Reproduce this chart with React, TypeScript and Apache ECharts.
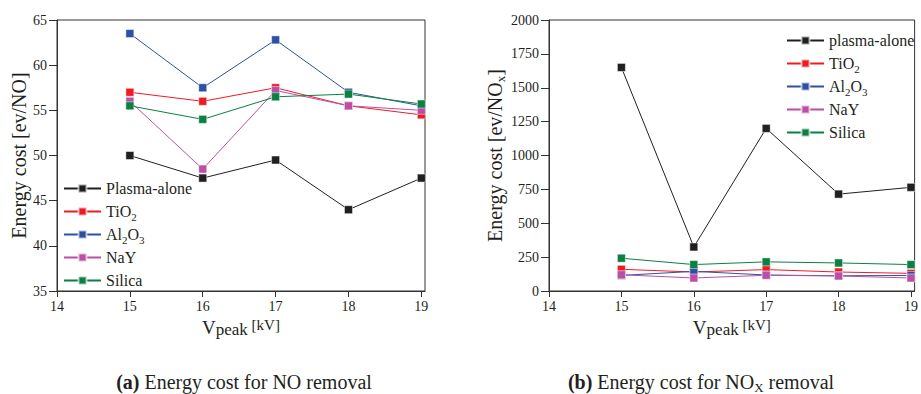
import React, { useEffect, useRef } from "react";
import * as echarts from "echarts";

const voltages = [15, 16, 17, 18, 19];
const xTicks = [14, 15, 16, 17, 18, 19];

const seriesNames = ["Plasma-alone", "TiO2", "Al2O3", "NaY", "Silica"];
const seriesNamesRight = ["plasma-alone", "TiO2", "Al2O3", "NaY", "Silica"];
const colors = ["#231f20", "#ed1c24", "#2e50a3", "#bb4fa5", "#0b8042"];

// (a) Energy cost for NO removal [eV/NO]
const noPlasma = [50.0, 47.5, 49.5, 44.0, 47.5];
const noTiO2 = [57.0, 56.0, 57.5, 55.5, 54.5];
const noAl2O3 = [63.5, 57.5, 62.8, 57.0, 55.5];
const noNaY = [56.0, 48.5, 57.2, 55.5, 55.0];
const noSilica = [55.5, 54.0, 56.5, 56.8, 55.7];

// (b) Energy cost for NOx removal [eV/NOx]
const noxPlasma = [1650, 325, 1200, 715, 765];
const noxTiO2 = [160, 140, 158, 140, 130];
const noxAl2O3 = [115, 145, 118, 112, 115];
const noxNaY = [120, 96, 116, 111, 96];
const noxSilica = [242, 195, 215, 207, 195];

const FONT = "'Liberation Serif', 'Times New Roman', serif";
const TXT = "#231f20";

const subRich = {
  n: { fontFamily: FONT, fontSize: 16, lineHeight: 21, color: TXT },
  s: { fontFamily: FONT, fontSize: 11, lineHeight: 11, verticalAlign: "bottom", color: TXT },
};

function legendFmt(name: string) {
  if (name === "TiO2") return "{n|TiO}{s|2}";
  if (name === "Al2O3") return "{n|Al}{s|2}{n|O}{s|3}";
  return "{n|" + name + "}";
}

function pairs(vals: number[]) {
  return vals.map((v, i) => [voltages[i], v]);
}

export default function App() {
  const ref = useRef<HTMLDivElement>(null);
  useEffect(() => {
    if (!ref.current) return;
    const chart = echarts.init(ref.current, null, { renderer: "svg" });

    const leftData = [noPlasma, noTiO2, noAl2O3, noNaY, noSilica];
    const rightData = [noxPlasma, noxTiO2, noxAl2O3, noxNaY, noxSilica];

    const mkSeries = (names: string[], data: number[][], idx: number) =>
      names.map((nm, i) => ({
        type: "line",
        name: nm,
        xAxisIndex: idx,
        yAxisIndex: idx,
        data: pairs(data[i]),
        symbol: "rect",
        symbolSize: 8,
        color: colors[i],
        lineStyle: { width: 1, color: colors[i] },
        itemStyle: { color: colors[i], borderColor: "rgba(255,255,255,0.6)", borderWidth: 0.8 },
        emphasis: { disabled: true },
      }));

    const axisCommon = {
      axisLine: { show: true, lineStyle: { color: "#333", width: 1 } },
      splitLine: { show: false },
    };

    const xAxisCfg = (gi: number) => ({
      type: "value",
      gridIndex: gi,
      min: 14,
      max: 19.05,
      interval: 1,
      ...axisCommon,
      axisTick: { show: true, length: 6, lineStyle: { color: "#333" }, customValues: xTicks },
      axisLabel: { fontFamily: FONT, fontSize: 14, color: TXT, margin: 8, customValues: xTicks },
      name: "{v|V}{s|peak}{k| [kV]}",
      nameLocation: "middle",
      nameGap: 26,
      nameTextStyle: {
        rich: {
          v: { fontFamily: FONT, fontSize: 19, lineHeight: 20, verticalAlign: "top", color: TXT },
          s: { fontFamily: FONT, fontSize: 17, lineHeight: 17, verticalAlign: "bottom", color: TXT },
          k: { fontFamily: FONT, fontSize: 15, lineHeight: 19, verticalAlign: "top", color: TXT },
        },
      },
    });

    const legendCommon = {
      orient: "vertical",
      padding: 0,
      itemWidth: 37,
      itemHeight: 10,
      itemGap: 2,
      formatter: legendFmt,
      selectedMode: false,
      textStyle: { fontFamily: FONT, fontSize: 16, lineHeight: 21, color: TXT, rich: subRich },
    };

    const option = {
      animation: false,
      textStyle: { fontFamily: FONT, color: TXT },
      grid: [
        { left: 57, top: 20, width: 368, height: 271, show: true, borderColor: "#333", borderWidth: 1, backgroundColor: "transparent" },
        { left: 549, top: 20, width: 368, height: 271, show: true, borderColor: "#333", borderWidth: 1, backgroundColor: "transparent" },
      ],
      xAxis: [xAxisCfg(0), xAxisCfg(1)],
      yAxis: [
        {
          type: "value",
          gridIndex: 0,
          min: 35,
          max: 65,
          interval: 5,
          ...axisCommon,
          axisTick: { show: true, length: 8, lineStyle: { color: "#333" } },
          axisLabel: { fontFamily: FONT, fontSize: 14, color: TXT, margin: 10 },
          name: "Energy cost [ev/NO]",
          nameLocation: "middle",
          nameGap: 26,
          nameTextStyle: { fontFamily: FONT, fontSize: 20, color: TXT },
        },
        {
          type: "value",
          gridIndex: 1,
          min: 0,
          max: 2000,
          interval: 250,
          ...axisCommon,
          axisTick: { show: true, length: 8, lineStyle: { color: "#333" } },
          axisLabel: { fontFamily: FONT, fontSize: 14, color: TXT, margin: 10, formatter: (v: number) => String(v) },
          name: "{n|Energy cost [ev/NO}{s|x}{n|]}",
          nameLocation: "middle",
          nameGap: 40,
          nameTextStyle: {
            rich: {
              n: { fontFamily: FONT, fontSize: 20, lineHeight: 24, color: TXT },
              s: { fontFamily: FONT, fontSize: 13, lineHeight: 13, verticalAlign: "bottom", color: TXT },
            },
          },
        },
      ],
      legend: [
        { ...legendCommon, data: seriesNames, left: 63, top: 178 },
        { ...legendCommon, data: seriesNamesRight, left: 786, top: 30 },
      ],
      graphic: [
        {
          type: "text",
          x: 244,
          y: 382,
          style: {
            text: "{b|(a)} {n|Energy cost for NO removal}",
            align: "center",
            verticalAlign: "middle",
            font: "20px 'Liberation Serif', serif",
            fill: TXT,
            rich: {
              b: { fontFamily: FONT, fontSize: 20, fontWeight: "bold", fill: TXT },
              n: { fontFamily: FONT, fontSize: 20, fill: TXT },
            },
          },
        },
        {
          type: "text",
          x: 701,
          y: 382,
          style: {
            text: "{b|(b)} {n|Energy cost for NO}{s|X}{n| removal}",
            align: "center",
            verticalAlign: "middle",
            font: "20px 'Liberation Serif', serif",
            fill: TXT,
            rich: {
              b: { fontFamily: FONT, fontSize: 20, fontWeight: "bold", fill: TXT, lineHeight: 24 },
              n: { fontFamily: FONT, fontSize: 20, fill: TXT, lineHeight: 24 },
              s: { fontFamily: FONT, fontSize: 13, fill: TXT, lineHeight: 13, verticalAlign: "bottom" },
            },
          },
        },
      ],
      series: [
        ...mkSeries(seriesNames, leftData, 0),
        ...mkSeries(seriesNamesRight, rightData, 1),
      ],
    };

    chart.setOption(option as any);
    return () => chart.dispose();
  }, []);

  return (
    <div
      ref={ref}
      style={{ position: "fixed", left: 0, top: 0, width: 921, height: 394, background: "#fff" }}
    />
  );
}
